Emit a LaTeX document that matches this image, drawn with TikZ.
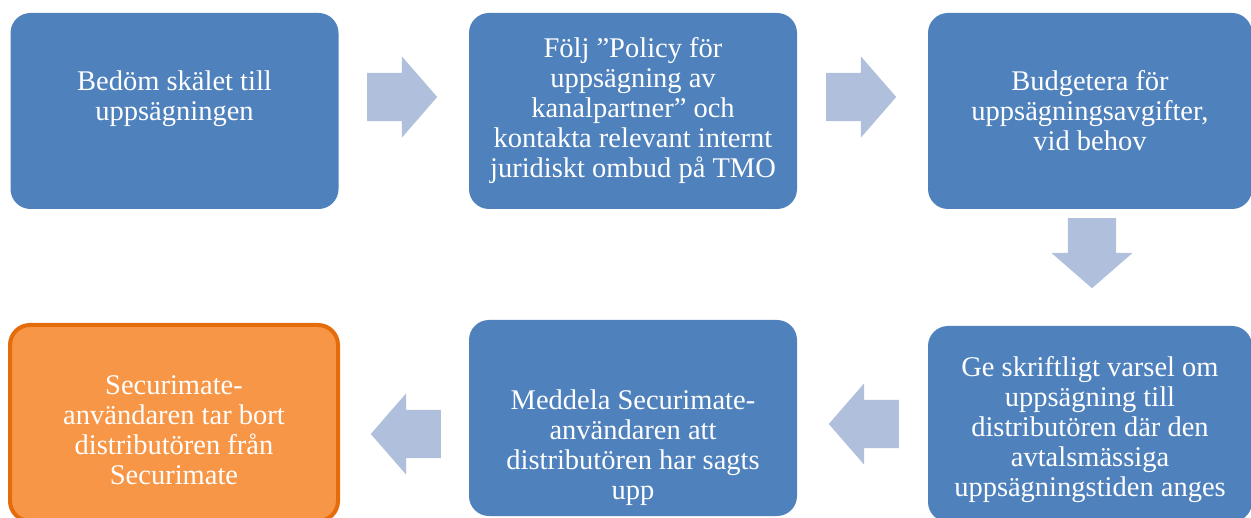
\documentclass[tikz,border=0pt]{standalone}
\usepackage{fontspec}
\setmainfont{Liberation Serif}
\usetikzlibrary{shapes.arrows}
\definecolor{boxblue}{HTML}{4F81BD}
\definecolor{pilblue}{HTML}{B0C0DC}
\definecolor{boxorange}{HTML}{F79646}
\definecolor{edgeorange}{HTML}{E46C0A}
\newcommand{\topgap}[1]{\rule{0pt}{#1}}
\begin{document}
\begin{tikzpicture}[x=1pt,y=-1pt,
  box/.style={rectangle, rounded corners=20pt, fill=boxblue, text=white, align=center,
    minimum width=328pt, minimum height=196pt, inner sep=0pt,
    font=\fontsize{28.5}{30}\selectfont},
  lastbox/.style={box, fill=boxorange, draw=edgeorange, line width=4pt},
  pil/.style={single arrow, fill=pilblue, inner xsep=0pt, inner ysep=24pt, minimum height=70pt,
    single arrow head extend=16.5pt, single arrow tip angle=98, anchor=tail}]
\useasboundingbox (0,0) rectangle (1251,518);
\node[box] (bedom) at (174.5,111) {Bedöm skälet till\\uppsägningen\\\mbox{}};
\node[box] (policy) at (633,111) {Följ ”Policy för\\uppsägning av\\kanalpartner” och\\kontakta relevant internt\\juridiskt ombud på TMO};
\node[box, minimum width=324pt] (budget) at (1090,111) {Budgetera för\\uppsägningsavgifter,\\vid behov};
\node[box, minimum width=324pt] (varsel) at (1090,424) {\topgap{32pt}Ge skriftligt varsel om\\uppsägning till\\distributören där den\\avtalsmässiga\\uppsägningstiden anges};
\node[box] (meddela) at (633,418) {\topgap{80pt}Meddela Securimate-\\användaren att\\distributören har sagts\\upp};
\node[lastbox] (tabort) at (174,423) {\topgap{34pt}Securimate-\\användaren tar bort\\distributören från\\Securimate};
\node[pil] (p1) at (367,97) {};
\node[pil] (p2) at (826,97) {};
\node[pil, rotate=-90] (p3) at (1092,218) {};
\node[pil, rotate=180] (p4) at (899,424) {};
\node[pil, rotate=180] (p5) at (441,434) {};
\end{tikzpicture}
\end{document}
